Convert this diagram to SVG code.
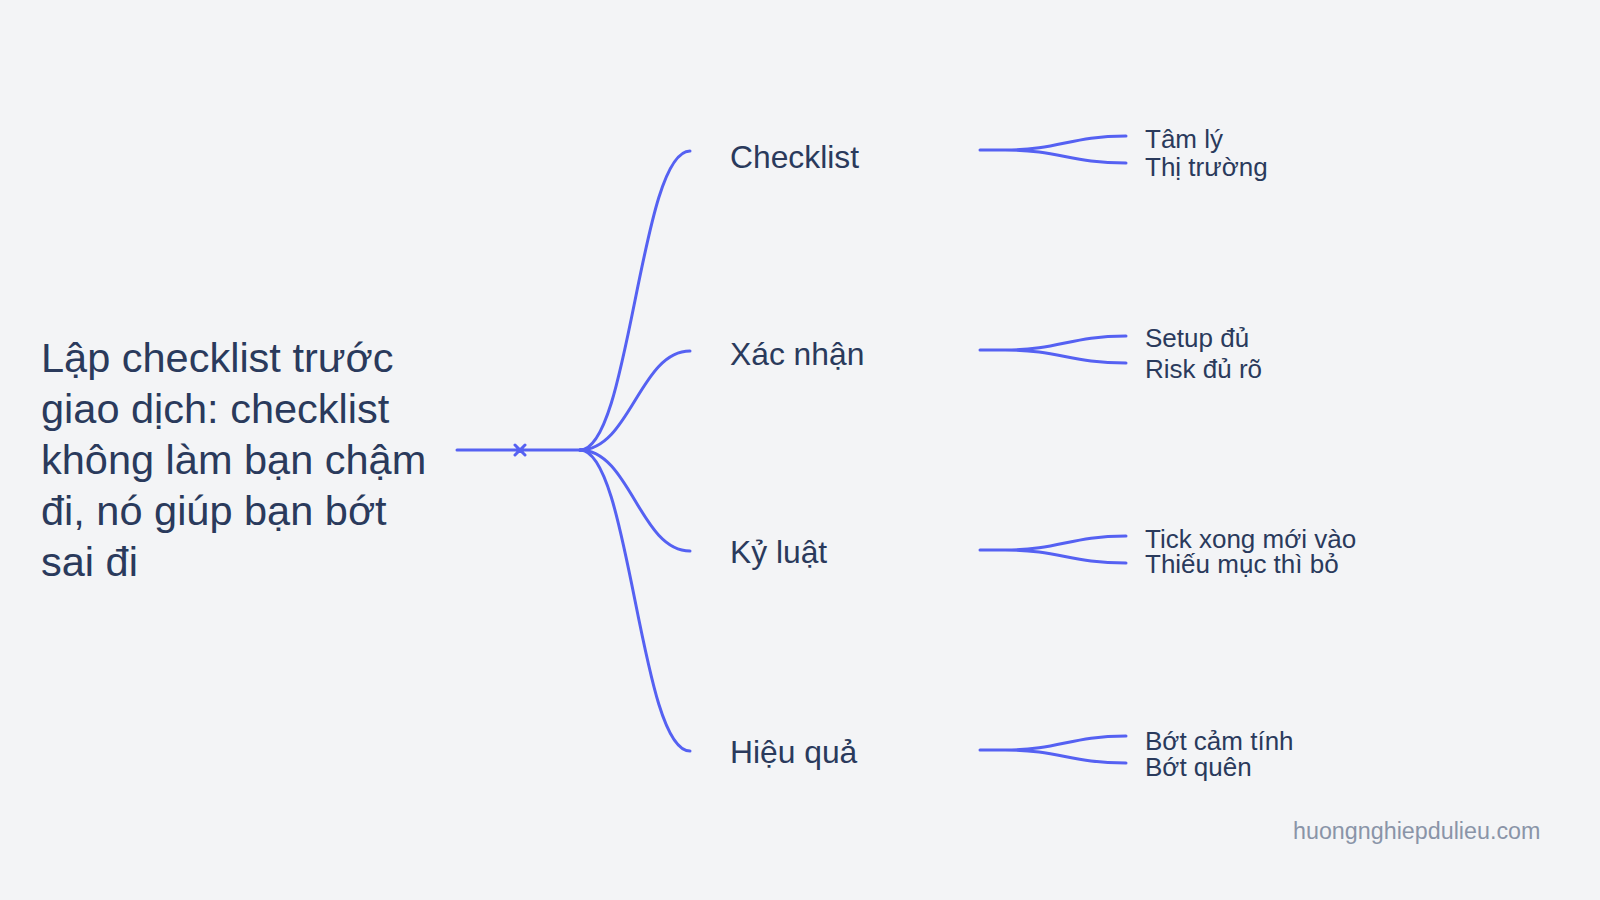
<svg xmlns="http://www.w3.org/2000/svg" width="1600" height="900" viewBox="0 0 1600 900">
<style>
.l{fill:none;stroke:#5561f2;stroke-width:3;stroke-linecap:round}
.t{font-family:"Liberation Sans",Arial,sans-serif;fill:#2a3a5c}
.big{font-size:41.5px}.mid{font-size:31.8px}.sm{font-size:26px}
</style>
<rect width="1600" height="900" fill="#f3f4f6"/>
<g id="root"><text class="t big" x="41"><tspan x="41" y="372">Lập checklist trước</tspan><tspan x="41" y="423">giao dịch: checklist</tspan><tspan x="41" y="474">không làm bạn chậm</tspan><tspan x="41" y="525">đi, nó giúp bạn bớt</tspan><tspan x="41" y="576">sai đi</tspan></text></g>
<g id="connectors">
<path class="l" d="M457 450H580M515 445l10 10M525 445l-10 10"/>
<path class="l" d="M580 450C630 450 640 151 690 151"/>
<path class="l" d="M580 450C630 450 640 351 690 351"/>
<path class="l" d="M580 450C630 450 640 551 690 551"/>
<path class="l" d="M580 450C630 450 640 751 690 751"/>
<path class="l" d="M980 150H1005C1060 150 1070 136 1126 136M1005 150C1060 150 1070 163 1126 163"/>
<path class="l" d="M980 350H1005C1060 350 1070 336 1126 336M1005 350C1060 350 1070 363 1126 363"/>
<path class="l" d="M980 550H1005C1060 550 1070 536 1126 536M1005 550C1060 550 1070 563 1126 563"/>
<path class="l" d="M980 750H1005C1060 750 1070 736 1126 736M1005 750C1060 750 1070 763 1126 763"/>
</g>
<g id="n1"><text class="t mid" x="730" y="168">Checklist</text></g>
<g id="n2"><text class="t mid" x="730" y="365">Xác nhận</text></g>
<g id="n3"><text class="t mid" x="730" y="563">Kỷ luật</text></g>
<g id="n4"><text class="t mid" x="730" y="763">Hiệu quả</text></g>
<g id="l1"><text class="t sm" x="1145" y="148">Tâm lý</text></g>
<g id="l2"><text class="t sm" x="1145" y="176">Thị trường</text></g>
<g id="l3"><text class="t sm" x="1145" y="347">Setup đủ</text></g>
<g id="l4"><text class="t sm" x="1145" y="378">Risk đủ rõ</text></g>
<g id="l5"><text class="t sm" x="1145" y="548">Tick xong mới vào</text></g>
<g id="l6"><text class="t sm" x="1145" y="573">Thiếu mục thì bỏ</text></g>
<g id="l7"><text class="t sm" x="1145" y="750">Bớt cảm tính</text></g>
<g id="l8"><text class="t sm" x="1145" y="776">Bớt quên</text></g>
<text x="1293" y="839" font-family="Liberation Sans,Arial,sans-serif" font-size="23.3" fill="#8a94a8">huongnghiepdulieu.com</text>
</svg>
